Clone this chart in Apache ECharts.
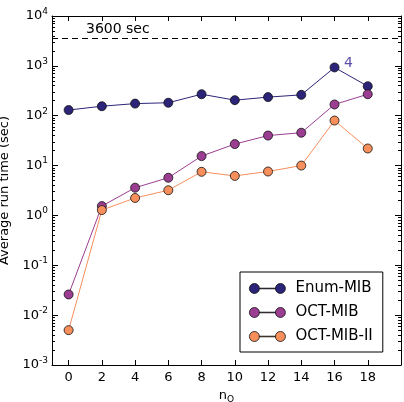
<!DOCTYPE html>
<html>
<head>
<meta charset="utf-8">
<script src="https://cdn.jsdelivr.net/npm/echarts@6/dist/echarts.min.js"></script>
<style>
  html, body { margin: 0; padding: 0; background: #fff; }
  #chart { width: 404px; height: 402px; }
</style>
</head>
<body>
<div id="chart"></div>
<script>
// values
const nO = [0, 2, 4, 6, 8, 10, 12, 14, 16, 18];
const enumMib = [130, 155, 175, 182, 270, 205, 236, 262, 930, 390];
const octMib = [0.026, 1.54, 3.6, 5.7, 15.5, 27, 40, 45.6, 168, 270];
const octMib2 = [0.005, 1.28, 2.24, 3.2, 7.5, 6.2, 7.6, 10, 80, 22];
const seriesNames = ["Enum-MIB", "OCT-MIB", "OCT-MIB-II"];
const seriesColors = ["#2b2478", "#9b3d91", "#f68f5c"];
const timeLimit = 3600;
const decadeExps = [-3, -2, -1, 0, 1, 2, 3];

const font = "DejaVu Sans";
const chart = echarts.init(document.getElementById("chart"));

const pair = (ys) => nO.map((x, i) => [x, ys[i]]);

// small log ticks at 2..9 inside every decade, placed on a hidden exponent axis
const minorExps = [];
decadeExps.forEach((d) => {
  for (let k = 2; k <= 9; k++) minorExps.push(d + Math.log10(k));
});

const supLabel = (v) => {
  const e = Math.round(Math.log10(v));
  return "{b|10}{e|" + e + "}";
};

const lineSeries = (name, ys, color) => ({
  name: name,
  type: "line",
  data: pair(ys),
  symbol: "circle",
  symbolSize: 9,
  lineStyle: { color: color, width: 1 },
  itemStyle: { color: color, borderColor: "#111", borderWidth: 0.8 },
  emphasis: { disabled: true },
  z: 3,
});

const series = [
  lineSeries(seriesNames[0], enumMib, seriesColors[0]),
  lineSeries(seriesNames[1], octMib, seriesColors[1]),
  lineSeries(seriesNames[2], octMib2, seriesColors[2]),
];

series[0].markLine = {
  silent: true,
  symbol: "none",
  lineStyle: { color: "#000", type: [6, 4], width: 1 },
  label: {
    formatter: "3600 sec",
    position: "insideStartTop",
    distance: [34, 2],
    color: "#000",
    fontFamily: font,
    fontSize: 14,
  },
  data: [{ yAxis: timeLimit }],
};
series[0].markPoint = {
  symbol: "circle",
  symbolSize: 1,
  itemStyle: { color: "transparent" },
  label: {
    formatter: "4",
    color: "#5b4fa8",
    fontFamily: font,
    fontSize: 14,
    offset: [14, -4],
  },
  data: [{ coord: [nO[8], enumMib[8]] }],
};

const legendIcon =
  "path://M0,5a5,5 0 1,0 10,0a5,5 0 1,0 -10,0z" +
  "M10,4.7h16v0.6h-16z" +
  "M26,5a5,5 0 1,0 10,0a5,5 0 1,0 -10,0z";

const xTicks = nO;
const frameLine = { show: true, onZero: false, lineStyle: { color: "#000", width: 1 } };

const logAxis = (pos, extra) =>
  Object.assign(
    {
      type: "log",
      logBase: 10,
      min: 0.001,
      max: 10000,
      position: pos,
      axisLine: frameLine,
      axisTick: { inside: true, length: 6, lineStyle: { color: "#000" } },
      axisLabel: { show: false },
      splitLine: { show: false },
    },
    extra
  );

const minorAxis = (pos) => ({
  type: "value",
  min: -3,
  max: 4,
  position: pos,
  axisLine: { show: false, onZero: false },
  axisTick: { show: true, inside: true, length: 3, customValues: minorExps, lineStyle: { color: "#000" } },
  axisLabel: { show: false },
  splitLine: { show: false },
});

const xAxisBase = (pos, extra) =>
  Object.assign(
    {
      type: "value",
      position: pos,
      min: -1,
      max: 20,
      axisLine: frameLine,
      axisTick: { inside: true, length: 5, customValues: xTicks, lineStyle: { color: "#000" } },
      axisLabel: { show: false },
      splitLine: { show: false },
    },
    extra
  );

const option = {
  animation: false,
  textStyle: { fontFamily: font },
  grid: { left: 52, right: 3, top: 16, bottom: 37, outerBoundsMode: "none" },
  legend: {
    orient: "vertical",
    left: 240,
    top: 272,
    padding: [9, 10, 8, 9],
    itemWidth: 36,
    itemHeight: 10,
    itemGap: 9,
    icon: legendIcon,
    itemStyle: { borderColor: "#111", borderWidth: 0.8 },
    borderColor: "#000",
    borderWidth: 1,
    backgroundColor: "#fff",
    textStyle: { fontFamily: font, fontSize: 15, color: "#000", padding: [0, 0, 0, 5] },
    data: seriesNames,
  },
  xAxis: [
    xAxisBase("bottom", {
      name: "{n|n}{o|O}",
      nameLocation: "middle",
      nameGap: 15,
      nameTextStyle: {
        rich: {
          n: { fontFamily: font, fontSize: 13, color: "#000" },
          o: { fontFamily: font, fontSize: 9, color: "#000", padding: [8, 0, 0, 0] },
        },
      },
      axisLabel: { customValues: xTicks, color: "#000", fontSize: 13, fontFamily: font, margin: 6 },
    }),
    xAxisBase("top", {}),
  ],
  yAxis: [
    logAxis("left", {
      name: "Average run time (sec)",
      nameLocation: "middle",
      nameGap: 34,
      nameTextStyle: { fontFamily: font, fontSize: 13, color: "#000" },
      axisLabel: {
        formatter: supLabel,
        margin: 4,
        rich: {
          b: { fontFamily: font, fontSize: 13, color: "#000" },
          e: { fontFamily: font, fontSize: 9, color: "#000", padding: [0, 0, 9, 0] },
        },
      },
    }),
    logAxis("right", {}),
    minorAxis("left"),
    minorAxis("right"),
  ],
  series: series,
};

chart.setOption(option);
</script>
</body>
</html>
